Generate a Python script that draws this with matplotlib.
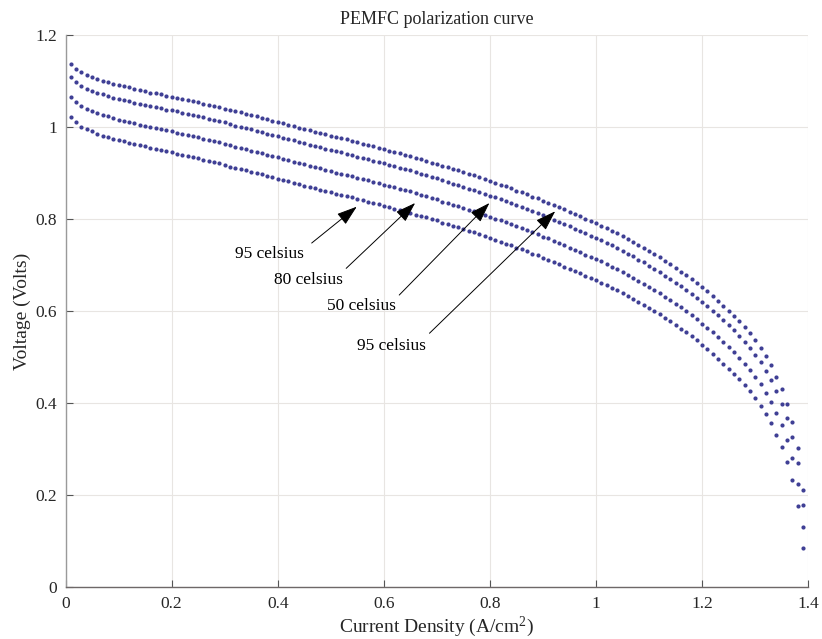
import numpy as np
import matplotlib as mpl
mpl.use('Agg')
from matplotlib import pyplot as plt

mpl.rcParams.update({
    'font.family': 'serif',
    'font.serif': ['Liberation Serif', 'DejaVu Serif'],
    'mathtext.fontset': 'custom',
    'mathtext.rm': 'Liberation Serif',
    'mathtext.it': 'Liberation Serif:italic',
    'font.size': 12,
})

# current density (A/cm^2), one dot every 0.01
current = [round(0.01 * k, 2) for k in range(1, 140)]

# voltage, top curve to bottom curve
v_top = [
    1.137, 1.126, 1.119, 1.113, 1.109, 1.105, 1.101, 1.098, 1.094, 1.091,
    1.089, 1.086, 1.083, 1.080, 1.078, 1.075, 1.073, 1.071, 1.068, 1.066,
    1.064, 1.061, 1.059, 1.056, 1.054, 1.051, 1.048, 1.046, 1.043, 1.040,
    1.037, 1.034, 1.032, 1.029, 1.026, 1.023, 1.020, 1.017, 1.014, 1.011,
    1.008, 1.005, 1.002, 0.999, 0.996, 0.993, 0.990, 0.987, 0.984, 0.981,
    0.978, 0.976, 0.973, 0.970, 0.967, 0.964, 0.961, 0.958, 0.955, 0.952,
    0.949, 0.946, 0.943, 0.940, 0.937, 0.933, 0.930, 0.927, 0.923, 0.920,
    0.916, 0.913, 0.909, 0.906, 0.902, 0.898, 0.895, 0.891, 0.887, 0.883,
    0.879, 0.875, 0.871, 0.867, 0.862, 0.858, 0.854, 0.849, 0.845, 0.840,
    0.836, 0.831, 0.826, 0.821, 0.816, 0.811, 0.806, 0.801, 0.796, 0.791,
    0.786, 0.780, 0.775, 0.769, 0.763, 0.757, 0.751, 0.744, 0.738, 0.731,
    0.724, 0.717, 0.709, 0.702, 0.694, 0.686, 0.678, 0.669, 0.661, 0.652,
    0.643, 0.633, 0.623, 0.612, 0.601, 0.590, 0.578, 0.565, 0.552, 0.537,
    0.521, 0.502, 0.482, 0.458, 0.431, 0.399, 0.359, 0.303, 0.211]

v_2 = [
    1.108, 1.097, 1.089, 1.083, 1.079, 1.075, 1.071, 1.068, 1.064, 1.061,
    1.059, 1.056, 1.053, 1.050, 1.048, 1.045, 1.043, 1.041, 1.038, 1.036,
    1.034, 1.031, 1.029, 1.026, 1.024, 1.021, 1.018, 1.016, 1.013, 1.010,
    1.006, 1.003, 1.001, 0.998, 0.995, 0.992, 0.989, 0.986, 0.983, 0.980,
    0.977, 0.974, 0.971, 0.968, 0.965, 0.962, 0.959, 0.956, 0.953, 0.950,
    0.947, 0.945, 0.942, 0.939, 0.936, 0.933, 0.930, 0.927, 0.924, 0.921,
    0.918, 0.915, 0.912, 0.909, 0.906, 0.902, 0.899, 0.896, 0.892, 0.889,
    0.884, 0.881, 0.877, 0.874, 0.870, 0.866, 0.863, 0.859, 0.855, 0.851,
    0.847, 0.843, 0.839, 0.835, 0.830, 0.826, 0.822, 0.817, 0.813, 0.808,
    0.804, 0.799, 0.794, 0.789, 0.784, 0.779, 0.774, 0.769, 0.764, 0.759,
    0.754, 0.748, 0.743, 0.737, 0.731, 0.725, 0.719, 0.712, 0.706, 0.699,
    0.692, 0.685, 0.677, 0.670, 0.662, 0.654, 0.646, 0.637, 0.629, 0.620,
    0.611, 0.601, 0.591, 0.580, 0.569, 0.558, 0.546, 0.533, 0.520, 0.505,
    0.489, 0.470, 0.450, 0.426, 0.399, 0.367, 0.327, 0.271, 0.179]

v_3 = [
    1.065, 1.054, 1.045, 1.039, 1.035, 1.030, 1.026, 1.023, 1.019, 1.016,
    1.014, 1.011, 1.008, 1.005, 1.003, 1.000, 0.998, 0.996, 0.993, 0.991,
    0.988, 0.985, 0.983, 0.980, 0.978, 0.975, 0.972, 0.970, 0.967, 0.964,
    0.960, 0.957, 0.955, 0.952, 0.949, 0.946, 0.943, 0.940, 0.937, 0.934,
    0.931, 0.928, 0.925, 0.922, 0.919, 0.916, 0.913, 0.910, 0.907, 0.904,
    0.901, 0.899, 0.896, 0.893, 0.890, 0.887, 0.884, 0.881, 0.878, 0.875,
    0.872, 0.869, 0.866, 0.863, 0.860, 0.856, 0.853, 0.850, 0.846, 0.843,
    0.838, 0.835, 0.831, 0.828, 0.824, 0.820, 0.817, 0.813, 0.809, 0.805,
    0.801, 0.797, 0.793, 0.789, 0.784, 0.780, 0.776, 0.771, 0.767, 0.762,
    0.758, 0.753, 0.748, 0.743, 0.738, 0.733, 0.728, 0.723, 0.718, 0.713,
    0.708, 0.702, 0.697, 0.691, 0.685, 0.679, 0.673, 0.666, 0.660, 0.653,
    0.646, 0.639, 0.631, 0.624, 0.616, 0.608, 0.600, 0.591, 0.583, 0.573,
    0.564, 0.554, 0.544, 0.533, 0.522, 0.511, 0.499, 0.486, 0.473, 0.458,
    0.442, 0.423, 0.403, 0.379, 0.352, 0.320, 0.280, 0.224, 0.132]

v_bottom = [
    1.022, 1.010, 1.001, 0.995, 0.991, 0.985, 0.981, 0.978, 0.974, 0.971,
    0.969, 0.966, 0.963, 0.960, 0.958, 0.954, 0.952, 0.950, 0.947, 0.945,
    0.942, 0.939, 0.937, 0.934, 0.932, 0.929, 0.926, 0.924, 0.921, 0.918,
    0.914, 0.911, 0.909, 0.906, 0.903, 0.900, 0.897, 0.894, 0.891, 0.888,
    0.885, 0.882, 0.879, 0.876, 0.873, 0.870, 0.867, 0.864, 0.861, 0.858,
    0.855, 0.853, 0.850, 0.847, 0.844, 0.841, 0.838, 0.835, 0.832, 0.829,
    0.826, 0.823, 0.820, 0.817, 0.814, 0.810, 0.807, 0.804, 0.800, 0.797,
    0.792, 0.789, 0.785, 0.782, 0.778, 0.774, 0.771, 0.767, 0.763, 0.759,
    0.755, 0.751, 0.747, 0.743, 0.738, 0.734, 0.730, 0.725, 0.721, 0.716,
    0.712, 0.707, 0.702, 0.697, 0.692, 0.687, 0.682, 0.677, 0.672, 0.667,
    0.662, 0.656, 0.651, 0.645, 0.639, 0.633, 0.627, 0.620, 0.614, 0.607,
    0.600, 0.593, 0.585, 0.578, 0.570, 0.562, 0.554, 0.545, 0.537, 0.526,
    0.517, 0.507, 0.497, 0.486, 0.475, 0.464, 0.452, 0.439, 0.426, 0.411,
    0.395, 0.376, 0.356, 0.332, 0.305, 0.273, 0.233, 0.177, 0.085]

# annotation labels: (text, text position, arrow tail, arrow tip)
labels = ['95 celsius', '80 celsius', '50 celsius', '95 celsius']
text_pos = [(0.385, 0.725), (0.458, 0.668), (0.558, 0.612), (0.615, 0.525)]
arrow_tail = [(0.464, 0.748), (0.529, 0.693), (0.629, 0.635), (0.686, 0.552)]
arrow_tip = [(0.549, 0.827), (0.659, 0.835), (0.799, 0.835), (0.923, 0.817)]

xticks = [0, 0.2, 0.4, 0.6, 0.8, 1.0, 1.2, 1.4]
xticklabels = ['0', '0.2', '0.4', '0.6', '0.8', '1', '1.2', '1.4']
yticks = [0, 0.2, 0.4, 0.6, 0.8, 1.0, 1.2]
yticklabels = ['0', '0.2', '0.4', '0.6', '0.8', '1', '1.2']

fig = plt.figure(figsize=(8.22, 6.39), dpi=100)
ax = fig.add_axes([0.0797, 0.0809, 0.9036, 0.8643])

dotcolor = '#3f3f95'
for v in [v_top, v_2, v_3, v_bottom]:
    ax.plot(current, v, linestyle='none', marker='o', markersize=3.0,
            markeredgewidth=0, color=dotcolor, zorder=3)

for lab, tp, tail, tip in zip(labels, text_pos, arrow_tail, arrow_tip):
    ax.annotate('', xy=tip, xytext=tail,
                arrowprops=dict(arrowstyle='-|>,head_length=0.9,head_width=0.3',
                                color='k', lw=0.7, mutation_scale=14,
                                shrinkA=0, shrinkB=0), zorder=4)
    ax.text(tp[0], tp[1], lab, ha='center', va='center', fontsize=12.5,
            color='k', zorder=5)

ax.set_xlim(0, 1.4)
ax.set_ylim(0, 1.2)
ax.set_xticks(xticks)
ax.set_xticklabels(xticklabels)
ax.set_yticks(yticks)
ax.set_yticklabels(yticklabels)

ax.grid(True, color='#e8e5e2', linewidth=0.8, zorder=0)
ax.set_axisbelow(True)
for side in ['top', 'right']:
    ax.spines[side].set_visible(False)
ax.spines['left'].set_color('#9a9a9a')
ax.spines['bottom'].set_color('#6e6868')
ax.spines['left'].set_linewidth(1.0)
ax.spines['bottom'].set_linewidth(1.0)
ax.tick_params(direction='in', length=5, width=0.8, colors='#555555',
               labelcolor='#262626', labelsize=12.5, pad=6)

ax.set_xlabel('Current Density (A/cm$^2$)', fontsize=14, color='#262626',
              labelpad=2)
ax.set_ylabel('Voltage (Volts)', fontsize=14, color='#262626', labelpad=3)
ax.set_title('PEMFC polarization curve', fontsize=13, color='#262626', pad=8)

fig.savefig('out.png', dpi=100)
